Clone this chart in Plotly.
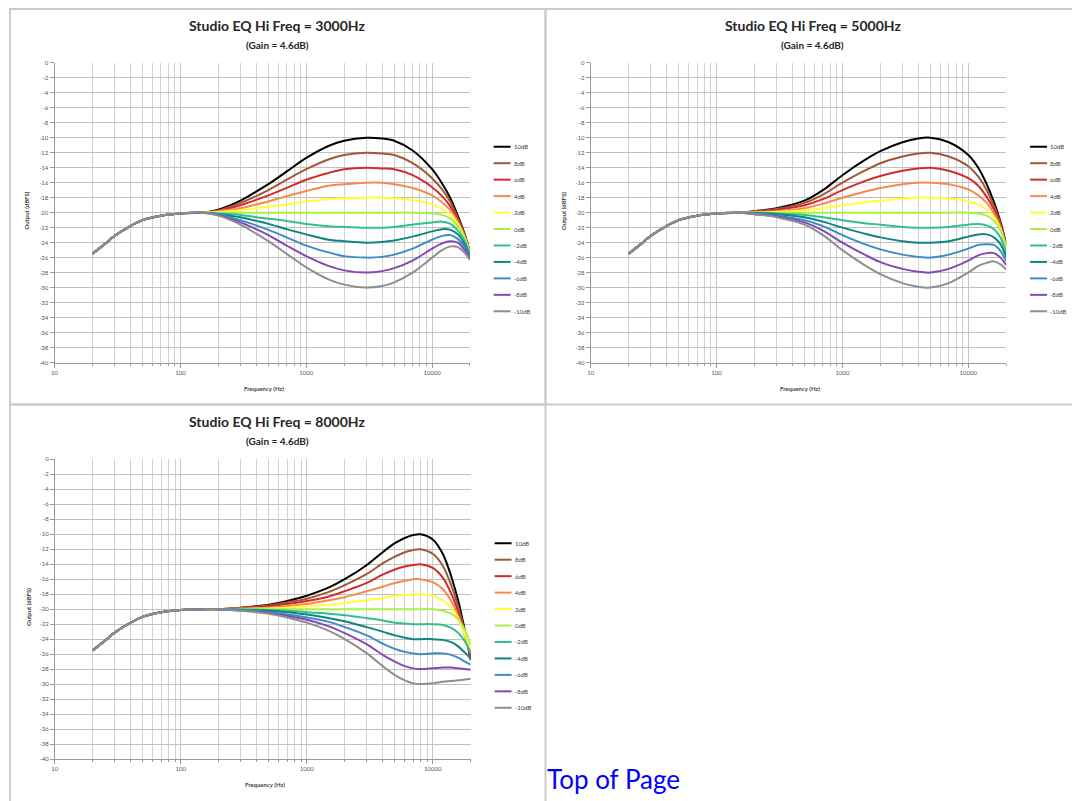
import math
import plotly.graph_objects as go

# ---------------- data ----------------
LABELS = ["10dB", "8dB", "6dB", "4dB", "2dB", "0dB", "-2dB", "-4dB", "-6dB", "-8dB", "-10dB"]
COLORS = ["#000000", "#9E5A36", "#D42A2A", "#F8894C", "#FFFF3A", "#ABF046",
          "#2EC08E", "#0F8580", "#3A8DC9", "#8548B4", "#8E8E8E"]

TITLES = ["Studio EQ Hi Freq = 3000Hz", "Studio EQ Hi Freq = 5000Hz", "Studio EQ Hi Freq = 8000Hz"]
SUBTITLE = "(Gain = 4.6dB)"
X_TITLE = "Frequency (Hz)"
Y_TITLE = "Output (dBFS)"
LINK_TEXT = "Top of Page"
X_TICK_VALS = [10, 100, 1000, 10000]
X_TICK_TEXT = ["10", "100", "1000", "10000"]
Y_TICK_VALS = [0, -2, -4, -6, -8, -10, -12, -14, -16, -18, -20, -22, -24, -26, -28, -30,
               -32, -34, -36, -38, -40]
Y_TICK_TEXT = [str(v) for v in Y_TICK_VALS]

# shared low-frequency part (all curves identical)
LOW_FREQ = [20, 25, 30, 40, 50, 70, 100, 150]
LOW_DB = [-25.5, -24.2, -23.1, -21.8, -21.0, -20.4, -20.1, -20.0]

# Hi Freq = 3000 Hz
FREQ_3000 = [200, 300, 400, 500, 700, 1000, 1500, 2000, 3000, 4000, 5000, 7000,
             10000, 12000, 14000, 16000, 18000, 20000]
DB_3000 = [
    [-19.6, -18.4, -17.2, -16.2, -14.5, -12.7, -11.1, -10.4, -10.0, -10.1, -10.4, -11.7, -14.2, -16.1, -18.1, -20.4, -22.7, -25.3],
    [-19.7, -18.7, -17.8, -17.0, -15.6, -14.2, -12.9, -12.3, -12.0, -12.1, -12.3, -13.4, -15.4, -16.9, -18.6, -20.7, -22.8, -25.3],
    [-19.8, -19.0, -18.3, -17.7, -16.7, -15.6, -14.7, -14.2, -14.0, -14.1, -14.2, -15.0, -16.6, -17.8, -19.2, -21.0, -22.9, -25.3],
    [-19.8, -19.4, -18.9, -18.5, -17.8, -17.1, -16.4, -16.2, -16.0, -16.0, -16.2, -16.7, -17.7, -18.6, -19.7, -21.2, -23.1, -25.4],
    [-19.9, -19.7, -19.4, -19.2, -18.9, -18.5, -18.2, -18.1, -18.0, -18.0, -18.1, -18.3, -18.9, -19.5, -20.3, -21.5, -23.2, -25.4],
    [-20.0, -20.0, -20.0, -20.0, -20.0, -20.0, -20.0, -20.0, -20.0, -20.0, -20.0, -20.0, -20.1, -20.3, -20.8, -21.8, -23.3, -25.4],
    [-20.1, -20.3, -20.6, -20.8, -21.1, -21.5, -21.8, -21.9, -22.0, -22.0, -21.9, -21.6, -21.3, -21.2, -21.5, -22.4, -23.7, -25.6],
    [-20.2, -20.6, -21.1, -21.5, -22.2, -22.9, -23.6, -23.8, -24.0, -23.9, -23.7, -23.2, -22.5, -22.2, -22.3, -22.9, -24.1, -25.8],
    [-20.2, -21.0, -21.7, -22.3, -23.3, -24.4, -25.3, -25.8, -26.0, -25.9, -25.6, -24.8, -23.6, -23.1, -23.0, -23.5, -24.5, -25.9],
    [-20.3, -21.3, -22.2, -23.0, -24.4, -25.8, -27.1, -27.7, -28.0, -27.8, -27.4, -26.4, -24.8, -24.1, -23.8, -24.0, -24.9, -26.1],
    [-20.4, -21.6, -22.8, -23.8, -25.5, -27.3, -28.9, -29.6, -30.0, -29.8, -29.3, -28.0, -26.0, -25.0, -24.5, -24.6, -25.3, -26.3],
]

# Hi Freq = 5000 Hz
FREQ_5000 = [200, 300, 500, 700, 1000, 1500, 2000, 3000, 4000, 5000, 7000,
             10000, 12000, 14000, 16000, 18000, 20000]
DB_5000 = [
    [-19.8, -19.4, -18.4, -17.0, -15.0, -13.0, -11.8, -10.6, -10.1, -10.0, -10.6, -12.3, -14.0, -16.2, -18.6, -21.2, -24.2],
    [-19.8, -19.5, -18.7, -17.6, -16.0, -14.4, -13.4, -12.5, -12.1, -12.0, -12.5, -13.8, -15.2, -17.0, -19.1, -21.4, -24.3],
    [-19.9, -19.6, -19.0, -18.2, -17.0, -15.8, -15.1, -14.4, -14.1, -14.0, -14.4, -15.4, -16.4, -17.9, -19.6, -21.7, -24.4],
    [-19.9, -19.8, -19.4, -18.8, -18.0, -17.2, -16.7, -16.2, -16.0, -16.0, -16.2, -16.9, -17.7, -18.7, -20.1, -21.9, -24.6],
    [-20.0, -19.9, -19.7, -19.4, -19.0, -18.6, -18.4, -18.1, -18.0, -18.0, -18.1, -18.5, -18.9, -19.6, -20.6, -22.2, -24.7],
    [-20.0, -20.0, -20.0, -20.0, -20.0, -20.0, -20.0, -20.0, -20.0, -20.0, -20.0, -20.0, -20.1, -20.4, -21.1, -22.4, -24.8],
    [-20.0, -20.1, -20.3, -20.6, -21.0, -21.4, -21.6, -21.9, -22.0, -22.0, -21.9, -21.6, -21.5, -21.7, -22.2, -23.3, -25.4],
    [-20.1, -20.2, -20.6, -21.2, -22.0, -22.8, -23.3, -23.8, -24.0, -24.0, -23.8, -23.2, -22.9, -22.9, -23.3, -24.2, -25.9],
    [-20.1, -20.4, -21.0, -21.8, -23.0, -24.2, -24.9, -25.6, -25.9, -26.0, -25.6, -24.8, -24.3, -24.2, -24.3, -25.1, -26.5],
    [-20.2, -20.5, -21.3, -22.4, -24.0, -25.6, -26.6, -27.5, -27.9, -28.0, -27.5, -26.4, -25.7, -25.4, -25.4, -26.0, -27.0],
    [-20.2, -20.6, -21.6, -23.0, -25.0, -27.0, -28.2, -29.4, -29.9, -30.0, -29.4, -28.0, -27.1, -26.7, -26.5, -26.9, -27.6],
]

# Hi Freq = 8000 Hz
FREQ_8000 = [200, 300, 500, 700, 1000, 1500, 2000, 3000, 4000, 5000, 6000, 7000, 8000,
             10000, 12000, 14000, 16000, 18000, 20000]
DB_8000 = [
    [-20.0, -19.8, -19.4, -18.9, -18.2, -17.1, -16.0, -14.1, -12.4, -11.2, -10.5, -10.1, -10.0, -10.7, -12.6, -15.6, -19.0, -22.9, -26.8],
    [-20.0, -19.8, -19.5, -19.1, -18.6, -17.7, -16.8, -15.3, -13.9, -13.0, -12.4, -12.1, -12.0, -12.6, -14.2, -16.8, -19.8, -23.1, -26.5],
    [-20.0, -19.9, -19.6, -19.3, -18.9, -18.3, -17.6, -16.5, -15.4, -14.7, -14.3, -14.1, -14.0, -14.5, -15.8, -17.9, -20.5, -23.4, -26.2],
    [-20.0, -19.9, -19.8, -19.6, -19.3, -18.8, -18.4, -17.6, -17.0, -16.5, -16.2, -16.0, -16.0, -16.4, -17.3, -18.9, -21.0, -23.6, -25.8],
    [-20.0, -20.0, -19.9, -19.8, -19.6, -19.4, -19.2, -18.8, -18.5, -18.2, -18.1, -18.0, -18.0, -18.2, -18.8, -19.8, -21.3, -23.4, -25.3],
    [-20.0, -20.0, -20.0, -20.0, -20.0, -20.0, -20.0, -20.0, -20.0, -20.0, -20.0, -20.0, -20.0, -20.0, -20.2, -20.6, -21.4, -22.8, -24.8],
    [-20.0, -20.0, -20.1, -20.2, -20.4, -20.6, -20.8, -21.2, -21.5, -21.8, -21.9, -22.0, -22.0, -22.0, -22.1, -22.5, -23.2, -24.3, -25.8],
    [-20.0, -20.1, -20.2, -20.4, -20.7, -21.2, -21.6, -22.4, -23.0, -23.5, -23.8, -24.0, -24.0, -24.0, -24.1, -24.4, -25.0, -25.8, -26.6],
    [-20.0, -20.1, -20.4, -20.7, -21.1, -21.7, -22.4, -23.5, -24.6, -25.3, -25.7, -25.9, -26.0, -25.9, -25.9, -26.1, -26.5, -27.0, -27.4],
    [-20.0, -20.2, -20.5, -20.9, -21.4, -22.3, -23.2, -24.7, -26.1, -27.0, -27.6, -27.9, -28.0, -27.9, -27.8, -27.8, -27.9, -28.0, -28.1],
    [-20.0, -20.2, -20.6, -21.1, -21.8, -22.9, -24.0, -25.9, -27.6, -28.8, -29.5, -29.9, -30.0, -29.9, -29.7, -29.6, -29.5, -29.4, -29.3],
]

CHART_FREQS = [FREQ_3000, FREQ_5000, FREQ_8000]
CHART_DBS = [DB_3000, DB_5000, DB_8000]

# ---------------- layout helpers (page pixels -> paper) ----------------
FIG_W, FIG_H = 1072, 801


def px(x):
    return x / FIG_W


def py(y):
    return 1 - y / FIG_H


# plot areas in page pixels: (left, right, top, bottom)
PLOT_BOXES = [(51.7, 468.3, 59.3, 361.7), (589.3, 1006.0, 59.3, 361.7), (52.0, 469.0, 459.3, 761.7)]
# chart frames (left, right, top, bottom)
FRAMES = [(7, 544, 5, 404), (544, 1080, 5, 404), (7, 544, 404, 812)]
TITLE_X = [275, 812, 275]
LEGEND_X = [492, 1030, 493]
LEGEND_Y0 = [144, 144, 544]
LEGEND_STEP = 16.6
YTITLE_X = [24, 562, 25]

FONT = "Lato, 'Open Sans', sans-serif"

fig = go.Figure()

minor_vals = [m * 10 ** e for e in range(1, 5) for m in range(2, 10) if m * 10 ** e <= 20000]

shapes = []
annotations = []

for c in range(3):
    xa = "x" if c == 0 else f"x{c + 1}"
    ya = "y" if c == 0 else f"y{c + 1}"
    freqs = LOW_FREQ + CHART_FREQS[c]
    for i, lab in enumerate(LABELS):
        dbs = LOW_DB + CHART_DBS[c][i]
        fig.add_trace(go.Scatter(
            x=freqs, y=dbs, mode="lines", name=lab, showlegend=False,
            line=dict(color=COLORS[i], width=2, shape="spline", smoothing=0.9),
            xaxis=xa, yaxis=ya, hoverinfo="x+y+name"))

    l, r, t, b = PLOT_BOXES[c]
    xkey = "xaxis" if c == 0 else f"xaxis{c + 1}"
    ykey = "yaxis" if c == 0 else f"yaxis{c + 1}"
    fig.update_layout({
        xkey: dict(
            type="log", range=[1, math.log10(20000)], anchor=ya,
            domain=[px(l), px(r)],
            tickmode="array", tickvals=X_TICK_VALS, ticktext=X_TICK_TEXT,
            showgrid=True, gridcolor="#c8c8c8", gridwidth=1,
            minor=dict(tickmode="array", tickvals=minor_vals, showgrid=True,
                       gridcolor="#d2d2d2", gridwidth=1, ticks="outside",
                       ticklen=2, tickcolor="#9a9a9a"),
            ticks="outside", ticklen=4, tickcolor="#9a9a9a",
            showline=True, linecolor="#9a9a9a", linewidth=1,
            zeroline=False, tickfont=dict(family=FONT, size=6, color="#555555"),
            fixedrange=True),
        ykey: dict(
            range=[-40, 0], anchor=xa, domain=[py(b), py(t)],
            tickmode="array", tickvals=Y_TICK_VALS, ticktext=Y_TICK_TEXT,
            showgrid=True, gridcolor="#c0c0c0", gridwidth=1,
            ticks="outside", ticklen=4, tickcolor="#9a9a9a",
            showline=True, linecolor="#9a9a9a", linewidth=1,
            zeroline=False, tickfont=dict(family=FONT, size=6, color="#555555"),
            fixedrange=True),
    })

    # frame
    fl, fr, ft, fb = FRAMES[c]
    shapes.append(dict(type="rect", xref="paper", yref="paper",
                       x0=px(fl), x1=px(fr), y0=py(fb), y1=py(ft),
                       line=dict(color="#cbcbcb", width=2), fillcolor="rgba(0,0,0,0)",
                       layer="below"))

    # titles
    annotations.append(dict(text=TITLES[c], x=px(TITLE_X[c]), y=py(ft + 17), xref="paper", yref="paper",
                            xanchor="center", yanchor="middle", showarrow=False,
                            font=dict(family=FONT, size=14, color="#262626", weight="bold")))
    annotations.append(dict(text=SUBTITLE, x=px(TITLE_X[c]), y=py(ft + 36.5), xref="paper", yref="paper",
                            xanchor="center", yanchor="middle", showarrow=False,
                            font=dict(family=FONT, size=10, color="#262626", weight="bold")))
    # axis titles
    annotations.append(dict(text=X_TITLE, x=px((l + r) / 2 + 2), y=py(b + 26), xref="paper", yref="paper",
                            xanchor="center", yanchor="middle", showarrow=False,
                            font=dict(family=FONT, size=6, color="#404040", weight="bold")))
    annotations.append(dict(text=Y_TITLE, x=px(YTITLE_X[c]), y=py((t + b) / 2 - 2), xref="paper", yref="paper",
                            xanchor="center", yanchor="middle", showarrow=False, textangle=-90,
                            font=dict(family=FONT, size=6, color="#404040", weight="bold")))

    # legend
    for i, lab in enumerate(LABELS):
        yy = LEGEND_Y0[c] + i * LEGEND_STEP
        x0 = LEGEND_X[c]
        shapes.append(dict(type="line", xref="paper", yref="paper",
                           x0=px(x0), x1=px(x0 + 17), y0=py(yy), y1=py(yy),
                           line=dict(color=COLORS[i], width=2)))
        annotations.append(dict(text=lab, x=px(x0 + 18), y=py(yy), xref="paper", yref="paper",
                                xanchor="left", yanchor="middle", showarrow=False,
                                font=dict(family=FONT, size=6, color="#404040")))

# "Top of Page" link text (kept fully inside the window)
annotations.append(dict(text=LINK_TEXT, x=px(544), y=py(782), xref="paper", yref="paper",
                        xanchor="left", yanchor="middle", showarrow=False,
                        font=dict(family="Lato, sans-serif", size=26, color="#0000FF")))

fig.update_layout(
    width=FIG_W, height=FIG_H, autosize=False,
    margin=dict(l=0, r=0, t=0, b=0),
    paper_bgcolor="white", plot_bgcolor="white",
    shapes=shapes, annotations=annotations,
    showlegend=False,
)

fig.write_html(
    "out.html",
    config={"displayModeBar": False},
    post_script="document.body.style.margin='0px';document.body.style.overflow='hidden';",
)
